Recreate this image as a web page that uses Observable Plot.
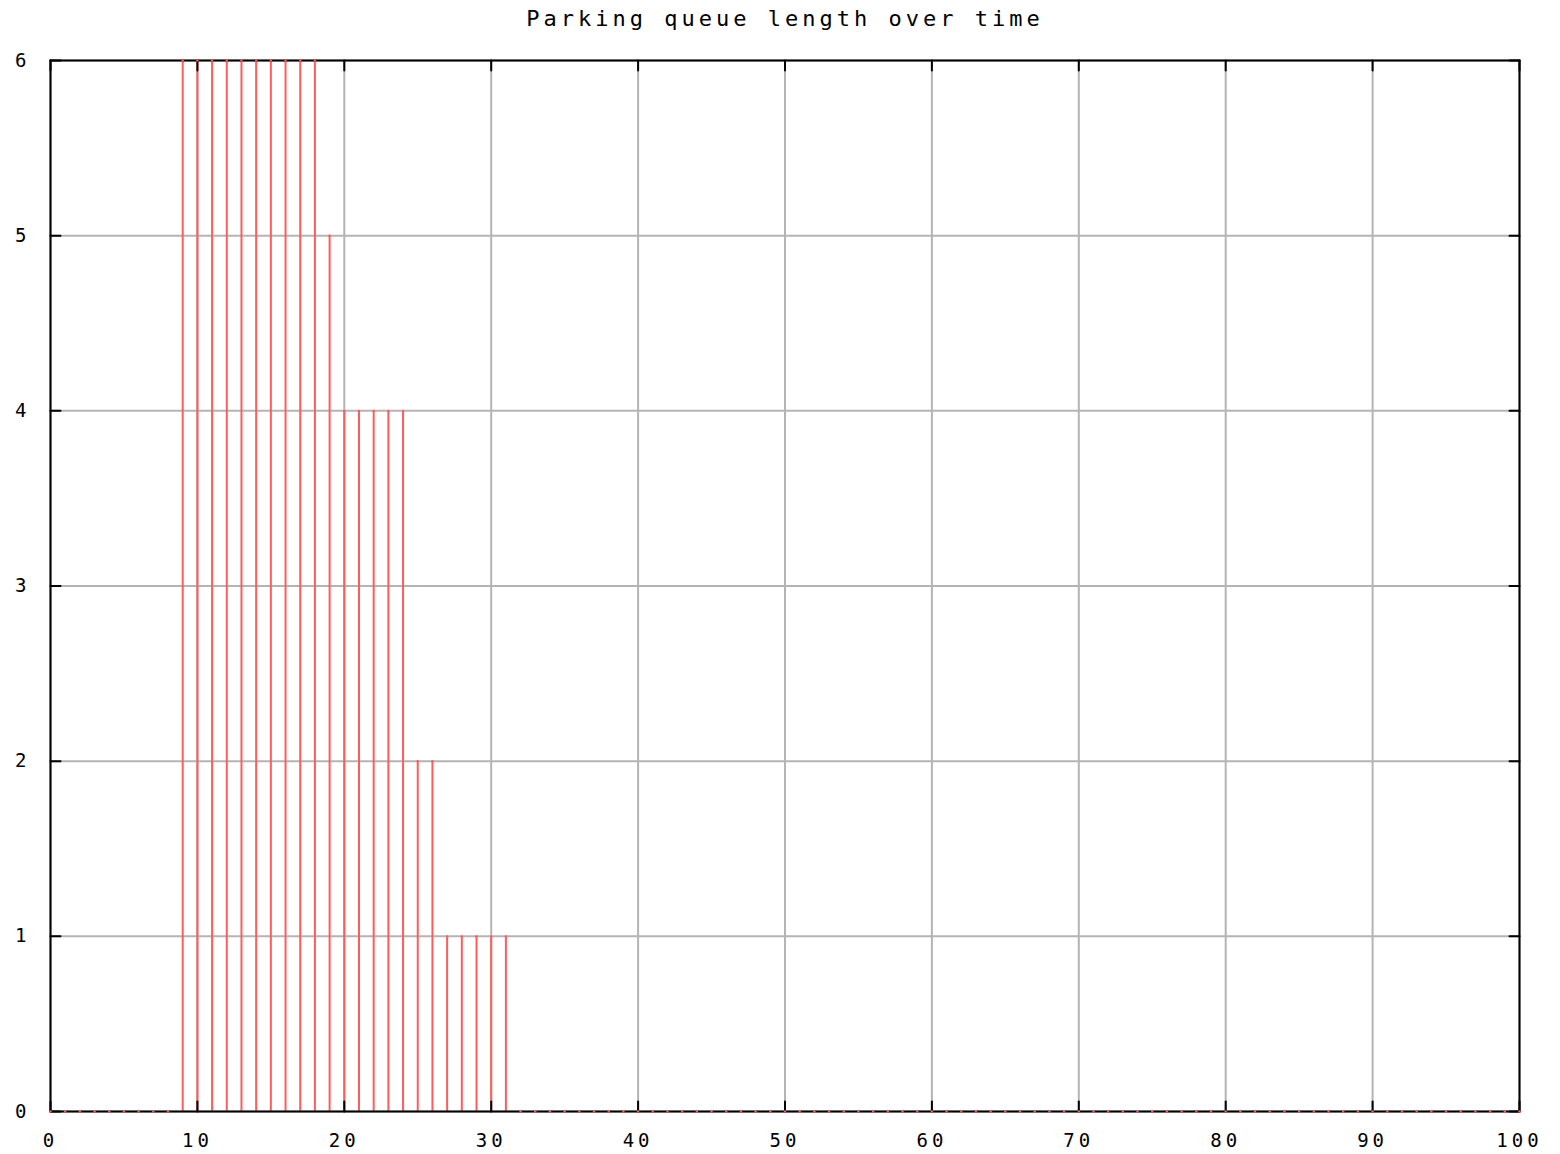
<!DOCTYPE html>
<html>
<head>
<meta charset="utf-8">
<script src="https://cdn.jsdelivr.net/npm/d3@7"></script>
<script src="https://cdn.jsdelivr.net/npm/@observablehq/plot@0.6"></script>
<style>
  html, body { margin: 0; padding: 0; background: #fff; }
  #chart svg { display: block; }
  #chart svg [aria-label$="tick label"] text { letter-spacing: 4px; }
  #chart svg g[aria-label="text"] text { letter-spacing: 4px; }
</style>
</head>
<body>
<div id="chart"></div>
<script>
const title = "Parking queue length over time";
// time samples 0..100
const time = d3.range(0, 101);
// queue length at each time sample
const queue = [
  0,0,0,0,0,0,0,0,0,            // 0-8
  6,6,6,6,6,6,6,6,6,6,          // 9-18
  5,                            // 19
  4,4,4,4,4,                    // 20-24
  2,2,                          // 25-26
  1,1,1,1,1,                    // 27-31
  0,0,0,0,0,0,0,0,0,0,0,0,0,0,0,0,0,0,0,0,0,0,0,0,0,0,0,0,0,0,0,0,0,0,0,0,0,0,0,0,
  0,0,0,0,0,0,0,0,0,0,0,0,0,0,0,0,0,0,0,0,0,0,0,0,0,0,0,0,0                   // 32-100
];
const xTicks = [0, 10, 20, 30, 40, 50, 60, 70, 80, 90, 100];
const yTicks = [0, 1, 2, 3, 4, 5, 6];
const xDomain = [0, 100];
const yDomain = [0, 6];

const data = time.map((t, i) => ({t, q: queue[i]}));
const font = "DejaVu Sans Mono, Liberation Mono, monospace";

const lineShape = {
  draw(context, l) { context.moveTo(0, 0); context.lineTo(0, -l); }
};
const tickOpts = {length: 10, anchor: "start", shape: lineShape, stroke: "#000", strokeWidth: 2};
const fmt = d => String(d);

const chart = Plot.plot({
  width: 1560,
  height: 1154,
  marginLeft: 50,
  marginRight: 41,
  marginTop: 60,
  marginBottom: 43,
  style: {fontFamily: font, fontSize: "18px", color: "#000", background: "#fff"},
  x: {type: "linear", domain: xDomain, ticks: xTicks, label: null, tickFormat: fmt},
  y: {type: "linear", domain: yDomain, ticks: yTicks, label: null, tickFormat: fmt},
  marks: [
    Plot.gridX(xTicks, {stroke: "#b4b4b4", strokeOpacity: 1, strokeWidth: 2}),
    Plot.gridY(yTicks, {stroke: "#b4b4b4", strokeOpacity: 1, strokeWidth: 2}),
    Plot.ruleX(data.filter(d => d.q > 0), {x: "t", y1: 0, y2: "q", stroke: "#ff5c5c", strokeWidth: 2}),
    Plot.frame({stroke: "#000", strokeWidth: 2}),
    Plot.vector(xTicks, {x: d => d, y: yDomain[0], rotate: 0, ...tickOpts}),
    Plot.vector(xTicks, {x: d => d, y: yDomain[1], rotate: 180, ...tickOpts}),
    Plot.vector(yTicks, {y: d => d, x: xDomain[0], rotate: 90, ...tickOpts}),
    Plot.vector(yTicks, {y: d => d, x: xDomain[1], rotate: 270, ...tickOpts}),
    Plot.dot(data, {x: "t", y: "q", r: 1.2, fill: "#ff5c5c", stroke: "none"}),
    Plot.axisX(xTicks, {anchor: "bottom", tickSize: 0, tickPadding: 22, fontSize: 19, label: null, tickFormat: fmt}),
    Plot.axisY(yTicks, {anchor: "left", tickSize: 0, tickPadding: 20, fontSize: 19, label: null, tickFormat: fmt}),
    Plot.text([title], {frameAnchor: "top", lineAnchor: "middle", dy: -42, fontSize: 22, fontFamily: font, fill: "#000"})
  ]
});
document.getElementById("chart").append(chart);
</script>
</body>
</html>
